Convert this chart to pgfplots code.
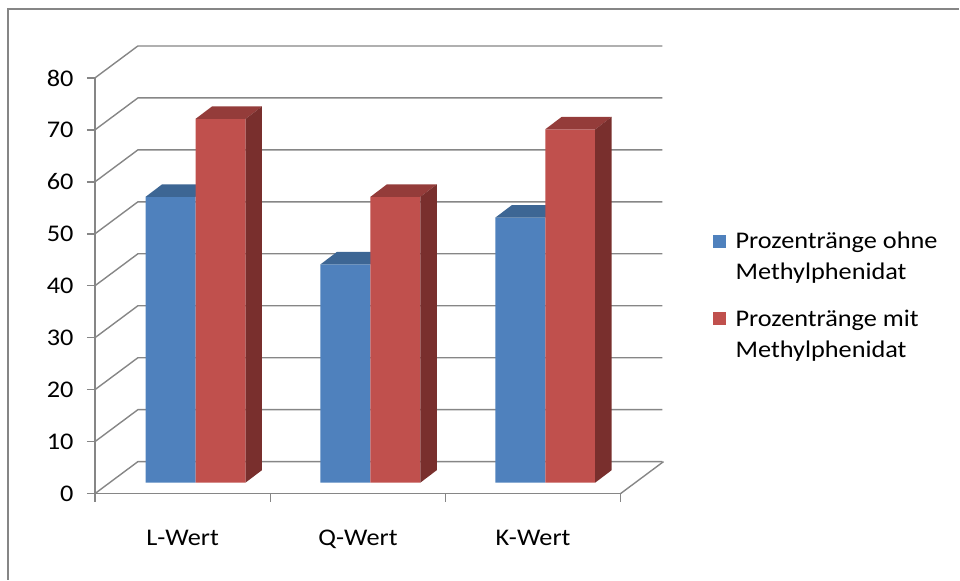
\documentclass[border=0pt]{standalone}
\usepackage{fontspec}
\setmainfont{Carlito}[FakeStretch=1.1]
\usepackage{pgfplots}
\usepackage{pgfplotstable}
\pgfplotsset{compat=1.18}
\definecolor{blueF}{RGB}{79,129,189}
\definecolor{blueT}{RGB}{61,102,148}
\definecolor{redF}{RGB}{192,80,77}
\definecolor{redT}{RGB}{148,60,58}
\definecolor{redS}{RGB}{121,47,45}
\definecolor{gridc}{RGB}{134,134,134}

% cx = centre of the bar pair (x in pixels), values in percent ranks
\pgfplotstableread{
cx ohne mit
195.7 55 70
370.7 42 55
545.7 51 68
}\datatable

\begin{document}
\begin{tikzpicture}[font=\fontsize{24}{31}\selectfont]
\begin{axis}[
  x=1bp, y=5.2bp,
  xmin=95, xmax=621, ymin=-2.115, ymax=77.885,
  enlargelimits=false, clip=false,
  axis x line*=bottom, axis y line*=left,
  axis line style={gridc, line width=1.4bp, -},
  tick style={gridc, line width=1.4bp},
  tick align=outside, major tick length=8bp,
  ytick={-2.115,7.885,17.885,27.885,37.885,47.885,57.885,67.885,77.885},
  yticklabels={0,10,20,30,40,50,60,70,80},
  xtick={95,270.5,446,621},
  xticklabels={L-Wert,Q-Wert,K-Wert},
  x tick label as interval,
  yticklabel style={xshift=-10bp},
  xticklabel style={yshift=-25bp},
  legend style={at={(axis cs:713,48.65)}, anchor=north west, draw=none, fill=none,
    inner sep=0pt, row sep=25bp, column sep=8bp,
    cells={anchor=west, align=left, inner sep=0pt}},
]
% outer chart frame and picture extent
\path (axis cs:0,92.885) rectangle (axis cs:960,-18.654);
\draw[gridc, line width=1.5bp] (axis cs:8,-18.654) -- (axis cs:8,91.154) -- (axis cs:960,91.154);

% wall gridlines
\addplot[gridc, line width=1.4bp, forget plot] coordinates {(95,-2.115) (138,4.038) (663,4.038)};
\addplot[gridc, line width=1.4bp, forget plot] coordinates {(95,7.885) (138,14.038) (663,14.038)};
\addplot[gridc, line width=1.4bp, forget plot] coordinates {(95,17.885) (138,24.038) (663,24.038)};
\addplot[gridc, line width=1.4bp, forget plot] coordinates {(95,27.885) (138,34.038) (663,34.038)};
\addplot[gridc, line width=1.4bp, forget plot] coordinates {(95,37.885) (138,44.038) (663,44.038)};
\addplot[gridc, line width=1.4bp, forget plot] coordinates {(95,47.885) (138,54.038) (663,54.038)};
\addplot[gridc, line width=1.4bp, forget plot] coordinates {(95,57.885) (138,64.038) (663,64.038)};
\addplot[gridc, line width=1.4bp, forget plot] coordinates {(95,67.885) (138,74.038) (663,74.038)};
\addplot[gridc, line width=1.4bp, forget plot] coordinates {(95,77.885) (138,84.038) (663,84.038)};
\addplot[gridc, line width=1.4bp, forget plot] coordinates {(621,-2.115) (664,4.038)};

% blue bars: front faces
\addplot[ybar, bar width=50, bar shift=0pt, fill=blueF, draw=none,
  legend image code/.code={\fill[blueF] (0bp,9bp) rectangle (13bp,22bp);}]
  table[x expr=\thisrow{cx}-25, y=ohne] {\datatable};
\addlegendentry{Prozentränge ohne\\Methylphenidat}
% blue bars: top faces
\pgfplotsinvokeforeach{0,1,2}{
  \pgfplotstablegetelem{#1}{cx}\of\datatable \pgfmathsetmacro\cx{\pgfplotsretval}
  \pgfplotstablegetelem{#1}{ohne}\of\datatable \pgfmathsetmacro\vv{\pgfplotsretval}
  \pgfmathsetmacro\xa{\cx-50}
  \pgfmathsetmacro\xad{\cx-50+16.5}
  \pgfmathsetmacro\xbd{\cx+16.5}
  \pgfmathsetmacro\vt{\vv+2.404}
  \edef\temp{\noexpand\addplot[fill=blueT, draw=none, forget plot] coordinates {(\xa,\vv) (\cx,\vv) (\xbd,\vt) (\xad,\vt)};}
  \temp
}
% red bars: front faces
\addplot[ybar, bar width=50, bar shift=0pt, fill=redF, draw=none,
  legend image code/.code={\fill[redF] (0bp,9bp) rectangle (13bp,22bp);}]
  table[x expr=\thisrow{cx}+25, y=mit] {\datatable};
\addlegendentry{Prozentränge mit\\Methylphenidat}
% red bars: top and side faces
\pgfplotsinvokeforeach{0,1,2}{
  \pgfplotstablegetelem{#1}{cx}\of\datatable \pgfmathsetmacro\cx{\pgfplotsretval}
  \pgfplotstablegetelem{#1}{mit}\of\datatable \pgfmathsetmacro\vv{\pgfplotsretval}
  \pgfmathsetmacro\xb{\cx+50}
  \pgfmathsetmacro\xad{\cx+16.5}
  \pgfmathsetmacro\xbd{\cx+50+16.5}
  \pgfmathsetmacro\vt{\vv+2.404}
  \edef\temp{\noexpand\addplot[fill=redT, draw=none, forget plot] coordinates {(\cx,\vv) (\xb,\vv) (\xbd,\vt) (\xad,\vt)};
    \noexpand\addplot[fill=redS, draw=none, forget plot] coordinates {(\xb,0) (\xbd,2.404) (\xbd,\vt) (\xb,\vv)};}
  \temp
}
\end{axis}
\end{tikzpicture}
\end{document}
